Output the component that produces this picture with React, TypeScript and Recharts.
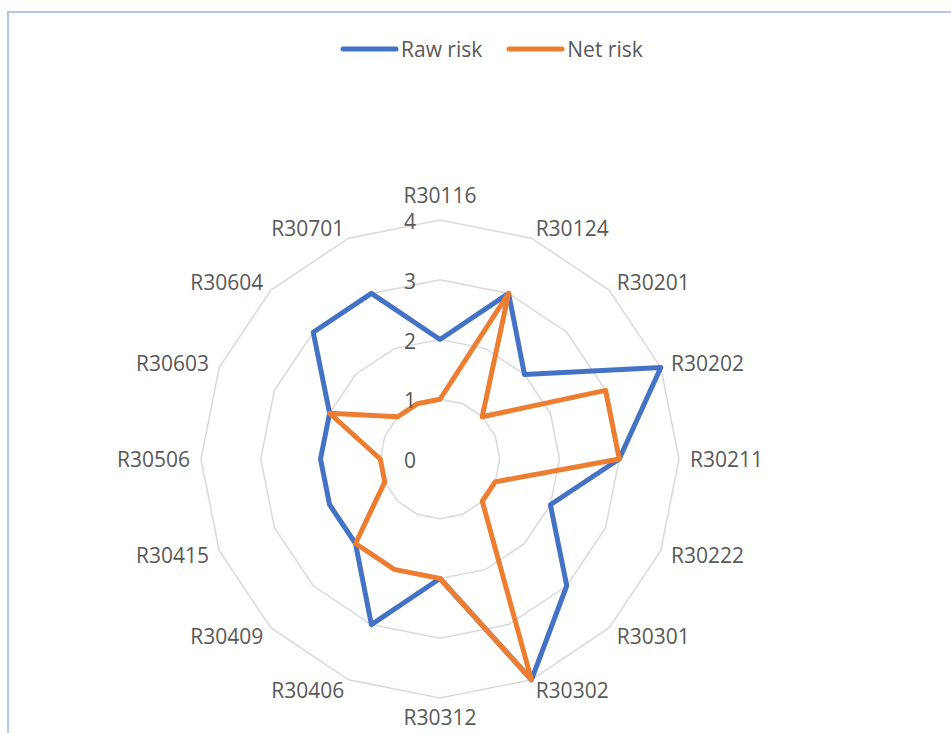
import { RadarChart, Radar, PolarGrid, PolarAngleAxis, PolarRadiusAxis } from 'recharts'

// risk codes, clockwise from the top
const codes = [
  'R30116', 'R30124', 'R30201', 'R30202', 'R30211', 'R30222', 'R30301', 'R30302',
  'R30312', 'R30406', 'R30409', 'R30415', 'R30506', 'R30603', 'R30604', 'R30701',
]
const rawRisk = [2, 3, 2, 4, 3, 2, 3, 4, 2, 3, 2, 2, 2, 2, 3, 3]
const netRisk = [1, 3, 1, 3, 3, 1, 1, 4, 2, 2, 2, 1, 1, 2, 1, 1]
const radiusTicks = [0, 1, 2, 3, 4]

const series = [
  { key: 'raw', name: 'Raw risk', color: '#4472C4' },
  { key: 'net', name: 'Net risk', color: '#ED7D31' },
]

const data = codes.map((code, i) => ({ code, raw: rawRisk[i], net: netRisk[i] }))

const CX = 440
const CY = 459
const OUTER = 239
const FONT = '"Open Sans", "Liberation Sans", sans-serif'
const TEXT = '#595959'
const RAD = Math.PI / 180

function AngleTick(props: any) {
  const { payload } = props
  const ang = payload.coordinate
  const ux = Math.cos(-ang * RAD)
  const uy = Math.sin(-ang * RAD)
  const r = OUTER + 11
  let x = CX + r * ux
  let y = CY + r * uy
  let anchor: 'start' | 'middle' | 'end' = 'middle'
  if (ux > 0.01) anchor = 'start'
  else if (ux < -0.01) anchor = 'end'
  else y += uy > 0 ? 8 : -14
  return (
    <text x={x} y={y} textAnchor={anchor} dominantBaseline="central"
      fill={TEXT} fontSize={21} fontFamily={FONT}>
      {payload.value}
    </text>
  )
}

function RadiusTick(props: any) {
  const { x, y, payload } = props
  return (
    <text x={x - 30} y={y + 1} textAnchor="middle" dominantBaseline="central"
      fill={TEXT} fontSize={21} fontFamily={FONT}>
      {payload.value}
    </text>
  )
}

function ChartLegend() {
  return (
    <div style={{ position: 'absolute', left: 340, top: 34, display: 'flex', alignItems: 'center', fontFamily: FONT, fontSize: 21, color: TEXT }}>
      {series.map((s, i) => (
        <div key={s.key} style={{ display: 'flex', alignItems: 'center', marginLeft: i === 0 ? 0 : 24 }}>
          <svg width={59} height={10}>
            <line x1={3} y1={5} x2={56} y2={5} stroke={s.color} strokeWidth={5} strokeLinecap="round" />
          </svg>
          <span style={{ marginLeft: 2, lineHeight: '30px' }}>{s.name}</span>
        </div>
      ))}
    </div>
  )
}

export default function App() {
  return (
    <div style={{ position: 'absolute', left: 0, top: 0, width: 951, height: 733, background: '#fff', overflow: 'hidden' }}>
      <div style={{ position: 'absolute', left: 7, top: 11, width: 960, height: 740, borderTop: '2px solid #B4C7E7', borderLeft: '2px solid #B4C7E7' }} />
      <ChartLegend />
      <div style={{ position: 'absolute', left: 0, top: 0 }}>
        <RadarChart width={951} height={733} data={data} cx={CX} cy={CY} outerRadius={OUTER}
          margin={{ top: 0, right: 0, bottom: 0, left: 0 }}>
          <PolarGrid gridType="polygon" radialLines={false} stroke="#D9D9D9" strokeWidth={1.5} />
          <PolarAngleAxis dataKey="code" tick={<AngleTick />} tickLine={false} axisLine={false} />
          <PolarRadiusAxis angle={90} domain={[0, 4]} ticks={radiusTicks as any} tickCount={5}
            axisLine={false} tick={<RadiusTick />} />
          {series.map(s => (
            <Radar key={s.key} name={s.name} dataKey={s.key} stroke={s.color} strokeWidth={5}
              strokeLinejoin="round" fill="none" fillOpacity={0} dot={false} isAnimationActive={false} />
          ))}
        </RadarChart>
      </div>
    </div>
  )
}
